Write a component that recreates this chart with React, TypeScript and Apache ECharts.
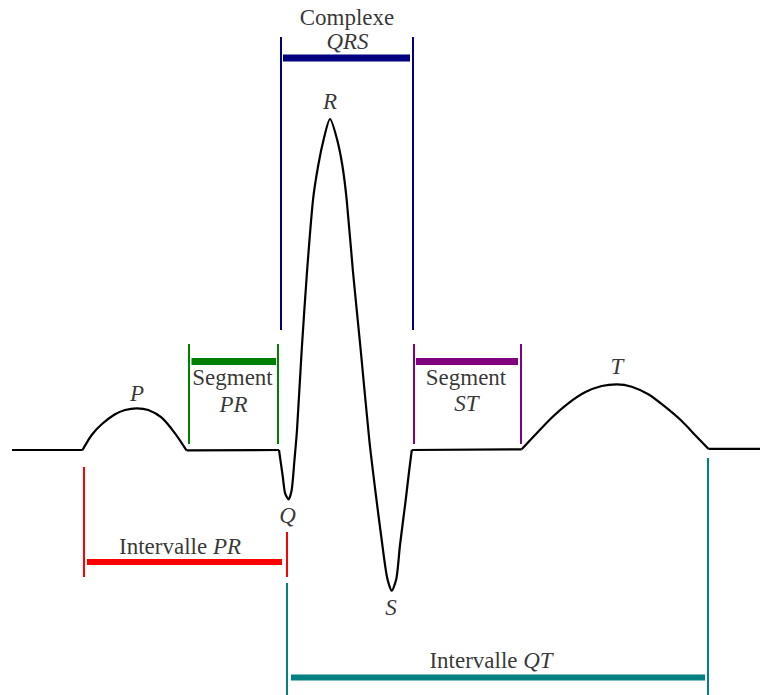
import React, { useEffect, useRef } from "react";
import * as echarts from "echarts";

// ECG trace (x, y in diagram units; y grows downward)
const baselineStart = [[12, 450], [82.5, 450]];
const pWave = [
  [82.5, 450], [91.7, 435], [101.7, 424.3], [115, 414.3], [125, 410], [136.7, 408.3],
  [148.3, 410], [161.7, 417.7], [175, 433.3], [186.5, 450.3],
];
const prSegment = [[186.5, 450.3], [279, 450]];
const qrsComplex = [
  [279, 450], [282.7, 476], [285, 493], [288.5, 499.3], [291.7, 490], [294.3, 462], [297, 430],
  [301.7, 350], [307, 272], [313, 200], [318.3, 165], [324, 138], [330, 119], [336.7, 138],
  [342.3, 165], [346.7, 200], [353, 272], [360.7, 350], [369.3, 440], [375.5, 492], [381.7, 540],
  [387, 577], [391.7, 590.7], [396.5, 578], [400, 545], [405.7, 500], [409, 472], [411.8, 450],
];
const stSegment = [[411.8, 450], [521.7, 449.3]];
const tWave = [
  [521.7, 449.3], [535, 435], [551.7, 417.7], [568.3, 403.3], [585, 392.3], [601.7, 386],
  [616.7, 384.3], [631.7, 386.7], [648.3, 394.3], [665, 406.7], [681.7, 421], [696.7, 436.7],
  [708.3, 448.8],
];
const baselineEnd = [[708.3, 448.8], [760, 448.8]];

// Interval / segment markers: vertical ticks [x, yTop, yBottom] and bars [[x1, y], [x2, y]]
const qrsTicks = [[281, 37, 330], [413, 37, 330]];
const qrsBar = [[283, 58], [410, 58]];
const prSegTicks = [[189, 344, 444], [278, 344, 444]];
const prSegBar = [[191.5, 361.5], [276, 361.5]];
const stSegTicks = [[414, 344, 444], [521, 344, 444]];
const stSegBar = [[416, 361.5], [518, 361.5]];
const prIntTicks = [[84, 467, 577], [287, 532, 577]];
const prIntBar = [[87, 562], [282, 562]];
const qtIntTicks = [[287, 583, 695], [708, 458, 695]];
const qtIntBar = [[291, 677.5], [705, 677.5]];

// Text labels: [x, y, roman part, italic part]
const labels: [number, number, string, string][] = [
  [347, 17, "Complexe", ""],
  [347.5, 41, "", "QRS"],
  [330, 101, "", "R"],
  [137, 393, "", "P"],
  [232.5, 377, "Segment", ""],
  [233.5, 404, "", "PR"],
  [466, 377, "Segment", ""],
  [466.5, 403, "", "ST"],
  [617, 366, "", "T"],
  [287.5, 515, "", "Q"],
  [391, 607, "", "S"],
  [180, 546, "Intervalle ", "PR"],
  [491, 660, "Intervalle ", "QT"],
];

const NAVY = "#000080";
const GREEN = "#008000";
const PURPLE = "#800080";
const RED = "#ff0000";
const TEAL = "#008080";
const FONT = "Liberation Serif";

export default function App() {
  const ref = useRef<HTMLDivElement>(null);
  useEffect(() => {
    if (!ref.current) return;
    const chart = echarts.init(ref.current, null, { renderer: "svg" });

    const line = (data: number[][], color: string, width: number, smooth: number | boolean = false) => ({
      type: "line",
      data,
      smooth,
      symbol: "none",
      silent: true,
      lineStyle: { color, width, cap: "butt" },
    });
    const ticks = (t: number[][], color: string) =>
      t.map(([x, y1, y2]) => line([[x, y1], [x, y2]], color, 2));

    const series: any[] = [
      line(baselineStart, "#000", 2.2),
      line(pWave, "#000", 2.2, 0.25),
      line(prSegment, "#000", 2.2),
      line(qrsComplex, "#000", 2.2, 0.25),
      line(stSegment, "#000", 2.2),
      line(tWave, "#000", 2.2, 0.25),
      line(baselineEnd, "#000", 2.2),
      ...ticks(qrsTicks, NAVY),
      line(qrsBar, NAVY, 7),
      ...ticks(prSegTicks, GREEN),
      line(prSegBar, GREEN, 7),
      ...ticks(stSegTicks, PURPLE),
      line(stSegBar, PURPLE, 7),
      ...ticks(prIntTicks, RED),
      line(prIntBar, RED, 6),
      ...ticks(qtIntTicks, TEAL),
      line(qtIntBar, TEAL, 6),
      {
        type: "scatter",
        symbolSize: 0,
        silent: true,
        data: labels.map(([x, y, r, i]) => ({
          value: [x, y],
          label: {
            formatter: (r ? `{r|${r}}` : "") + (i ? `{i|${i}}` : ""),
          },
        })),
        label: {
          show: true,
          position: "inside",
          align: "center",
          verticalAlign: "middle",
          rich: {
            r: { fontFamily: FONT, fontSize: 23, color: "#000" },
            i: { fontFamily: FONT, fontSize: 23, fontStyle: "italic", color: "#000" },
          },
        },
      },
    ];

    chart.setOption({
      animation: false,
      backgroundColor: "#fff",
      grid: { left: 0, right: 0, top: 0, bottom: 0 },
      xAxis: { type: "value", min: 0, max: 760, show: false },
      yAxis: { type: "value", min: 0, max: 695, inverse: true, show: false },
      series,
    });
    return () => chart.dispose();
  }, []);
  return (
    <div
      ref={ref}
      style={{ position: "absolute", left: 0, top: 0, width: 760, height: 695 }}
    />
  );
}
